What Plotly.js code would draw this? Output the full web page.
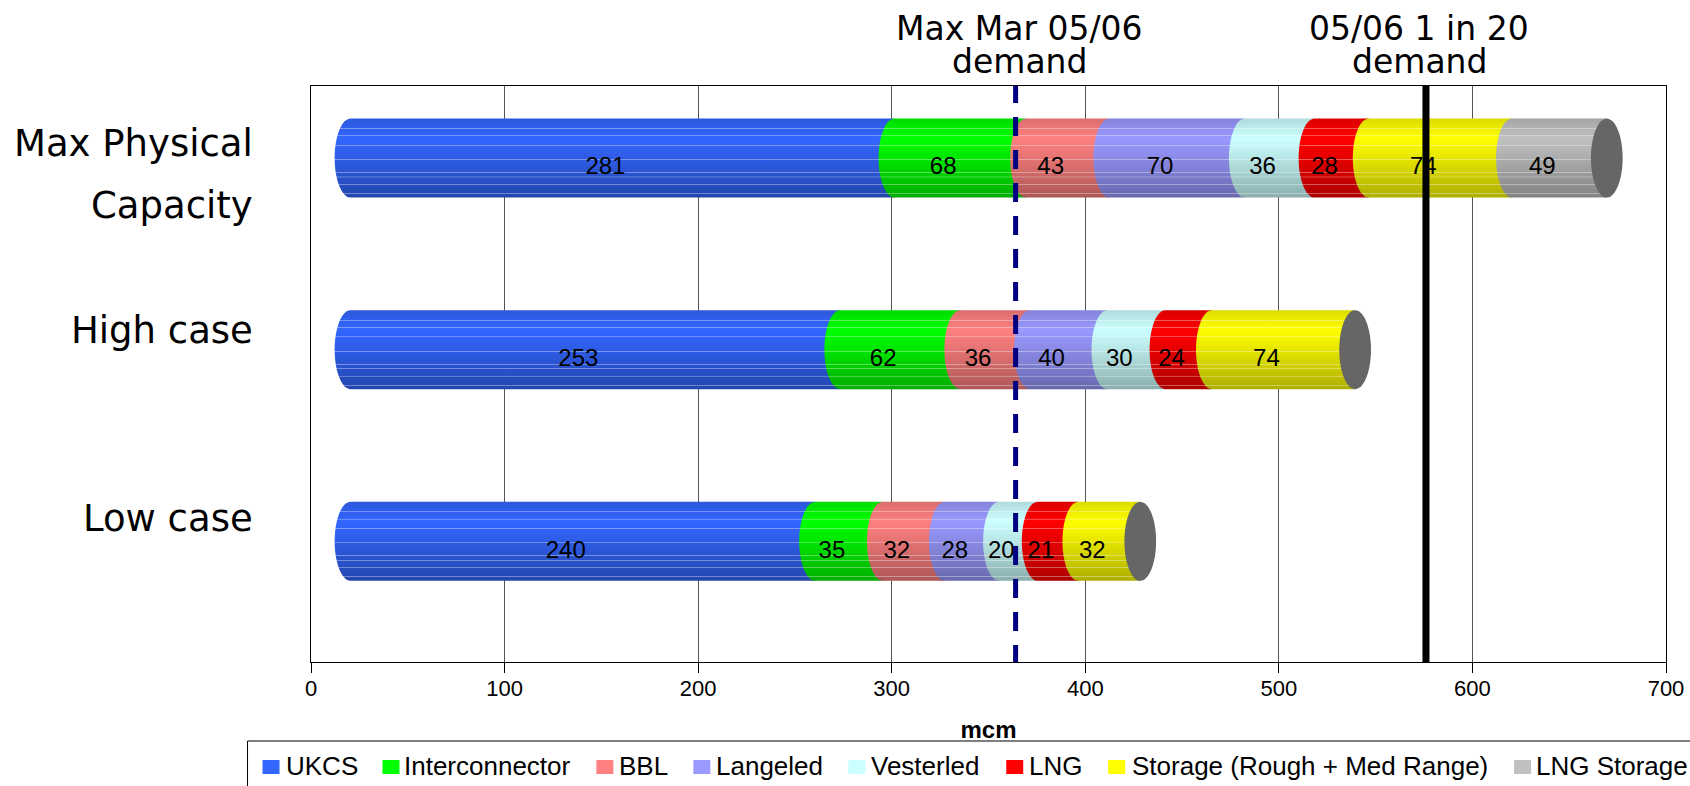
<!DOCTYPE html>
<html><head><meta charset="utf-8">
<script src="https://cdn.plot.ly/plotly-3.0.1.min.js"></script>
<style>html,body{margin:0;padding:0;background:#fff;overflow:hidden}</style>
</head><body><div id="chart" style="width:1690px;height:786px"></div>
<script>
const rowLabels = ['Max Physical Capacity','High case','Low case'];
const seriesNames = ['UKCS','Interconnector','BBL','Langeled','Vesterled','LNG','Storage (Rough + Med Range)','LNG Storage'];
const UKCS = [281,253,240];
const Interconnector = [68,62,35];
const BBL = [43,36,32];
const Langeled = [70,40,28];
const Vesterled = [36,30,20];
const LNG = [28,24,21];
const Storage = [74,74,32];
const LNGStorage = [49,null,null];
const seriesValues = [UKCS,Interconnector,BBL,Langeled,Vesterled,LNG,Storage,LNGStorage];
const seriesColors = [[51,102,255],[0,255,0],[255,128,128],[153,153,255],[204,255,255],[255,0,0],[255,255,0],[192,192,192]];
const xTicks = [0,100,200,300,400,500,600,700];
const maxMarDemand = 364;
const oneIn20Demand = 576;

const rowY = [2,1,0];
const depth = 20.4, capA = 8.2, halfH = 0.206, labelDx = 11.6, labelDy = 0.054;
const yRange = [-0.63,2.376];

function rgb(c,m,w){const f=v=>Math.round(Math.min(255,(v*m)*(1-w)+255*w));return `rgb(${f(c[0])},${f(c[1])},${f(c[2])})`;}
const stripeT = [.127,.219,.338,.52,.684,.74,.835,.95];
function mult(t){
  const p=[[0,.86],[.25,1],[.5,.9],[1,.68]];
  for(let i=1;i<p.length;i++) if(t<=p[i][0]){const a=p[i-1],b=p[i];return a[1]+(b[1]-a[1])*(t-a[0])/(b[0]-a[0]);}
  return .68;
}
function scale(c){
  let ts=[];
  [0,.25,.5,1].forEach(t=>ts.push([t,0]));
  stripeT.forEach(t=>{ts.push([t-.008,0]);ts.push([t-.004,.35]);ts.push([t+.004,.35]);ts.push([t+.008,0]);});
  ts.sort((a,b)=>a[0]-b[0]);
  return ts.map(([t,w])=>[+(1-t).toFixed(4),rgb(c,mult(t),w)]).reverse();
}
function halfEllipse(cx,cy){
  const xs=[],ys=[];
  for(let i=0;i<=24;i++){const th=Math.PI/2+Math.PI*i/24;xs.push(cx+capA*Math.cos(th));ys.push(cy+halfH*Math.sin(th));}
  return [xs,ys];
}
const traces=[];
const cum=[depth,depth,depth];
seriesValues.forEach((vals,s)=>{
  const bases=vals.map((v,r)=>cum[r]);
  traces.push({type:'bar',orientation:'h',name:seriesNames[s],y:rowY,x:vals,base:bases,width:.4,
    marker:{color:rgb(seriesColors[s],1,0),line:{width:0}},hoverinfo:'skip',showlegend:false});
  vals.forEach((v,r)=>{ if(v!=null) cum[r]+=v; });
});
const start=[depth,depth,depth];
const lx=[],ly=[],lt=[];
seriesValues.forEach((vals,s)=>{
  vals.forEach((v,r)=>{
    if(v==null) return;
    const x0=start[r],x1=x0+v,y=rowY[r];
    const [ex,ey]=halfEllipse(x0,y);
    traces.push({type:'scatter',mode:'none',x:ex.concat([x1,x1,x0]),y:ey.concat([y-halfH,y+halfH,y+halfH]),
      fill:'toself',fillcolor:rgb(seriesColors[s],1,0),
      fillgradient:{type:'vertical',colorscale:scale(seriesColors[s])},
      showlegend:false,hoverinfo:'skip'});
    lx.push(x0+v/2-depth+labelDx);ly.push(y-labelDy);lt.push(String(v));
    start[r]=x1;
  });
});
start.forEach((x,r)=>{
  const xs=[],ys=[];
  for(let i=0;i<=48;i++){const th=2*Math.PI*i/48;xs.push(x+capA*Math.cos(th));ys.push(rowY[r]+halfH*Math.sin(th));}
  traces.push({type:'scatter',mode:'none',x:xs,y:ys,fill:'toself',fillcolor:'#666666',showlegend:false,hoverinfo:'skip'});
});
traces.push({type:'scatter',mode:'text',x:lx,y:ly,text:lt,textposition:'middle center',
  textfont:{family:'Liberation Sans',size:24,color:'#000'},showlegend:false,hoverinfo:'skip'});
traces.push({type:'scatter',mode:'lines',x:[maxMarDemand,maxMarDemand],y:[2.386,-0.651],cliponaxis:false,
  line:{color:'#000080',width:5,dash:'19px,14px'},showlegend:false,hoverinfo:'skip'});
traces.push({type:'scatter',mode:'lines',x:[oneIn20Demand,oneIn20Demand],y:[2.407,-0.64],cliponaxis:false,
  line:{color:'#000',width:7},showlegend:false,hoverinfo:'skip'});

const font='DejaVu Sans';
const W=1690,H=786,L=310.5,R=1666,T=86,B=662;
const px=v=>(v-L)/(R-L), py=v=>(B-v)/(B-T);
function note(text,x,y,size,anchor,family){return {text,xref:'paper',yref:'paper',x:px(x),y:py(y),xanchor:anchor,yanchor:'middle',showarrow:false,
  xshift:0,font:{family:family||font,size,color:'#000'},borderpad:0};}
const legendSwatchX=[262,382,596,693,848,1006,1108,1514];
const legendTextX=[284,403,618,715,870,1028,1131,1535];
const legendY=767;
const shapes=[
  {type:'line',xref:'paper',yref:'paper',x0:px(247),x1:px(1690),y0:py(741),y1:py(741),line:{color:'#000',width:1}},
  {type:'line',xref:'paper',yref:'paper',x0:px(247),x1:px(247),y0:py(741),y1:py(786),line:{color:'#000',width:1}}
];
const legendNotes=seriesNames.map((n,i)=>note(n,legendTextX[i],legendY-1,26,'left','Liberation Sans'));
seriesNames.forEach((n,i)=>shapes.push({type:'rect',xref:'paper',yref:'paper',x0:px(legendSwatchX[i]),x1:px(legendSwatchX[i]+17),
  y0:py(legendY-7),y1:py(legendY+7),fillcolor:rgb(seriesColors[i],1,0),line:{width:0}}));
const layout={
  width:W,height:H,autosize:false,paper_bgcolor:'#fff',plot_bgcolor:'#fff',barmode:'overlay',
  margin:{l:L,r:W-R,t:T,b:H-B,pad:0},
  font:{family:'Liberation Sans',color:'#000'},
  xaxis:{range:[0,700],tickvals:xTicks,ticks:'outside',ticklen:10,tickwidth:1,tickcolor:'#000',showgrid:true,gridcolor:'#555',gridwidth:1,
    zeroline:false,showline:true,linecolor:'#000',linewidth:1,mirror:true,tickfont:{size:22,family:'Liberation Sans'},ticklabelstandoff:-3,
    title:{text:'<b>mcm</b>',font:{size:24,family:'Liberation Sans'},standoff:20}},
  yaxis:{range:yRange,tickvals:[],showgrid:false,zeroline:false,showline:true,linecolor:'#000',linewidth:1,mirror:true},
  showlegend:false,
  annotations:[
    note('Max Physical',253.5,143,37,'right'),
    note('Capacity',253.5,205,37,'right'),
    note('High case',253.5,330,37,'right'),
    note('Low case',253.5,518,37,'right'),
    note('Max Mar 05/06',1019,28,33,'center'),
    note('demand',1019,61,33,'center'),
    note('05/06 1 in 20',1419,28,33,'center'),
    note('demand',1419,61,33,'center')
  ].concat(legendNotes),
  shapes
};
Plotly.newPlot('chart',traces,layout,{displayModeBar:false,responsive:false});
</script></body></html>
